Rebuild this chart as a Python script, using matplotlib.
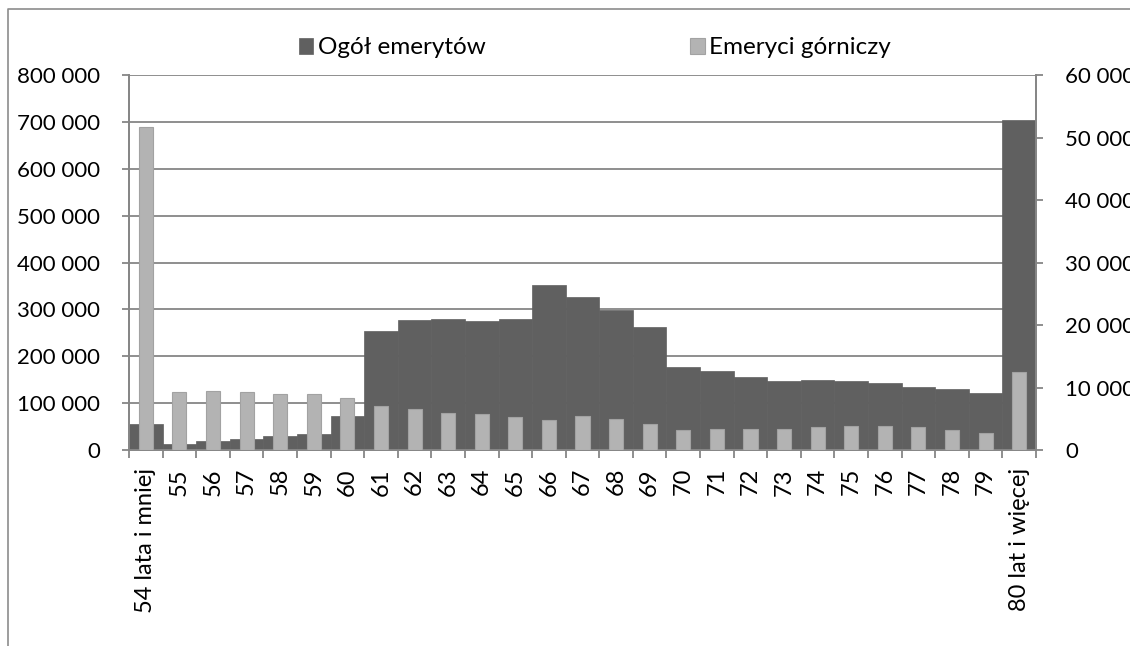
import matplotlib.pyplot as plt
from matplotlib.lines import Line2D
from matplotlib.ticker import FuncFormatter, MultipleLocator
import numpy as np

plt.rcParams['font.family'] = ['Lato', 'DejaVu Sans']

kategorie = ['54 lata i mniej'] + [str(w) for w in range(55, 80)] + ['80 lat i więcej']
ogol = [55000, 13000, 19000, 24000, 30500, 35000, 73000, 254000, 277000, 278500,
        275000, 279000, 353000, 325500, 298500, 261500, 178000, 169000, 156500,
        147000, 149500, 148000, 143000, 135000, 129500, 121500, 704000]
gornicy = [51700, 9330, 9440, 9230, 9010, 8960, 8270, 7090, 6510, 5970, 5760,
           5280, 4800, 5490, 5010, 4110, 3180, 3360, 3360, 3360, 3730, 3890,
           3840, 3630, 3200, 2770, 12430]

ciemny = '#606060'
jasny = '#b3b3b3'
szary = '#868686'

fig = plt.figure(figsize=(11.3, 6.46), dpi=100)
ax = fig.add_axes([0.1142, 0.3034, 0.8026, 0.5805])
ax2 = ax.twinx()

x = np.arange(len(kategorie))
b1 = ax.bar(x, ogol, width=1.0, color=ciemny, edgecolor=ciemny, linewidth=0.5,
            label='Ogół emerytów', zorder=2)
b2 = ax2.bar(x, gornicy, width=0.42, color=jasny, edgecolor='#a2a2a2', linewidth=0.8,
             label='Emeryci górniczy', zorder=3)

ax.set_xlim(-0.5, len(kategorie) - 0.5)
ax.set_ylim(0, 800000)
ax2.set_ylim(0, 60000)
ax.yaxis.set_major_locator(MultipleLocator(100000))
ax2.yaxis.set_major_locator(MultipleLocator(10000))
fmt = FuncFormatter(lambda v, p: f'{int(v):,}'.replace(',', ' '))
ax.yaxis.set_major_formatter(fmt)
ax2.yaxis.set_major_formatter(fmt)

ax.set_axisbelow(True)
ax.grid(axis='y', color=szary, linewidth=1.3)

ax.set_xticks(x)
ax.set_xticklabels(kategorie, rotation=90)
ax.set_xticks(np.arange(-0.5, len(kategorie)), minor=True)
ax.tick_params(axis='x', which='major', length=0, pad=13, labelsize=17)
ax.tick_params(axis='x', which='minor', length=6, width=1.3, color=szary)
ax.tick_params(axis='y', length=5, width=1.3, color=szary, pad=16, labelsize=16)
ax2.tick_params(axis='y', length=5, width=1.3, color=szary, pad=16, labelsize=16)

for a in (ax, ax2):
    a.spines['top'].set_visible(False)
    for s in ('left', 'right', 'bottom'):
        a.spines[s].set_color(szary)
        a.spines[s].set_linewidth(1.3)

fig.legend(handles=[b1, b2], loc='center', bbox_to_anchor=(0.5265, 1 - 48 / 646),
           ncol=2, frameon=False, fontsize=17.5, handlelength=0.6, handleheight=0.6,
           handletextpad=0.2, columnspacing=8.4)

# ramka wykresu
fig.add_artist(Line2D([0.0071, 0.0071, 1.0], [0.0, 0.986, 0.986],
                      transform=fig.transFigure, color='#8c8c8c', linewidth=1.2))

fig.savefig('out.png', dpi=100)
